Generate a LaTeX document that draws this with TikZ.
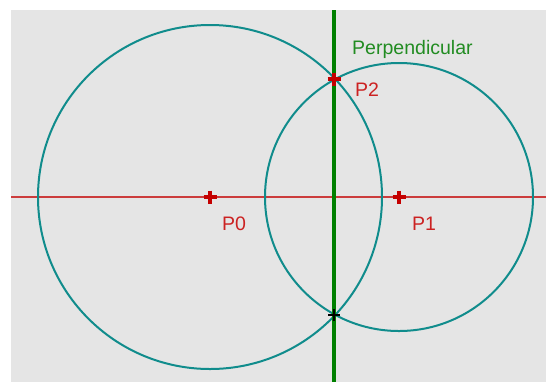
\documentclass[tikz,border=0pt]{standalone}
\usepackage{fontspec}
\setmainfont{Liberation Sans}
\definecolor{bggray}{RGB}{229,229,229}
\definecolor{teal1}{RGB}{16,140,140}
\definecolor{redline}{RGB}{204,60,60}
\definecolor{ptred}{RGB}{196,0,0}
\definecolor{lblred}{RGB}{204,34,34}
\definecolor{perpgreen}{RGB}{0,128,0}
\definecolor{lblgreen}{RGB}{34,140,34}
\begin{document}
\begin{tikzpicture}[x=1bp,y=-1bp,
  circ/.style={draw=teal1,line width=2bp},
  hline/.style={draw=redline,line width=2.6bp},
  perp/.style={draw=perpgreen,line width=4bp},
  ptcross/.style={draw=ptred,line width=4bp},
  blackcross/.style={draw=black,line width=1.3bp},
  lbl/.style={anchor=base west,inner sep=0pt,font=\fontsize{19.6}{22}\selectfont}]
\useasboundingbox (0,0) rectangle (546,382);
\fill[white] (0,0) rectangle (546,382);
\fill[bggray] (11,10) rectangle (546,382);
\coordinate (L) at (11,197);
\coordinate (R) at (546,197);
\coordinate (T) at (334,10);
\coordinate (B) at (334,382);
\coordinate (P0) at (210,197);
\coordinate (P1) at (399,197);
\coordinate (P2) at (334,79);
\coordinate (P3) at (334,315);
\draw[hline] (L) -- (R);
\draw[circ] (P0) circle (172);
\draw[circ] (P1) circle (134);
\draw[perp] (T) -- (B);
\draw[ptcross] (P0) +(-6.5,0) -- +(6.5,0) (P0) +(0,-6.5) -- +(0,6.5);
\draw[ptcross] (P1) +(-6.5,0) -- +(6.5,0) (P1) +(0,-6.5) -- +(0,6.5);
\draw[ptcross] (P2) +(-6.5,0) -- +(6.5,0) (P2) +(0,-6.5) -- +(0,6.5);
\draw[blackcross] (P3) +(-6,0) -- +(6,0) (P3) +(0,-6) -- +(0,6);
\node[lbl,text=lblred] (l0) at (222,230) {P0};
\node[lbl,text=lblred] (l1) at (412,230) {P1};
\node[lbl,text=lblred] (l2) at (355,96) {P2};
\node[lbl,text=lblgreen] (lp) at (352,54) {Perpendicular};
\end{tikzpicture}
\end{document}
